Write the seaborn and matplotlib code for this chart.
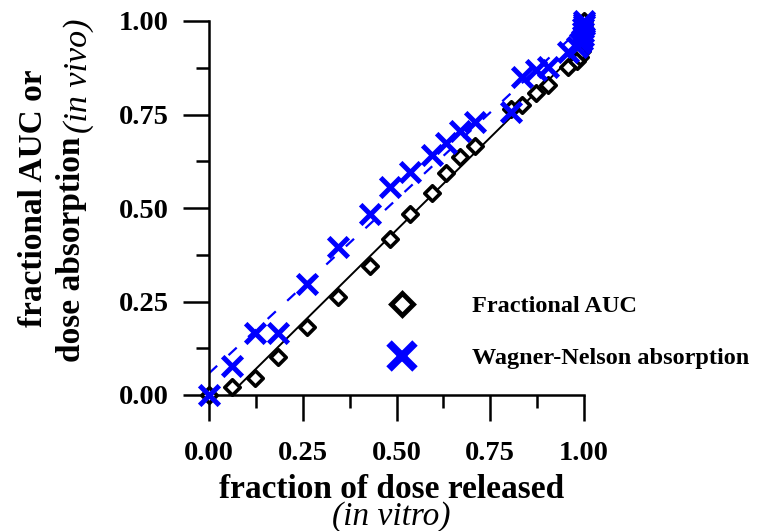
import numpy as np
import pandas as pd
import matplotlib
matplotlib.use("Agg")
import matplotlib.pyplot as plt
from matplotlib.lines import Line2D
from matplotlib.ticker import MultipleLocator
import seaborn as sns

# ---- data ----
frac_released = [0.0, 0.060, 0.123, 0.185, 0.262, 0.344, 0.428, 0.483, 0.536, 0.594,
                 0.633, 0.668, 0.709, 0.805, 0.834, 0.872, 0.905, 0.958, 0.982, 0.990,
                 0.994, 0.996, 0.997, 0.998, 0.999, 1.0, 1.0]
frac_auc = [0.0, 0.022, 0.045, 0.102, 0.183, 0.263, 0.346, 0.417, 0.483, 0.541,
            0.593, 0.636, 0.667, 0.764, 0.775, 0.807, 0.829, 0.876, 0.893, 0.905,
            0.920, 0.935, 0.950, 0.965, 0.978, 0.990, 1.0]
wn_abs = [0.0, 0.078, 0.167, 0.167, 0.297, 0.397, 0.484, 0.555, 0.597, 0.642,
          0.675, 0.707, 0.729, 0.757, 0.851, 0.869, 0.878, 0.918, 0.930, 0.940,
          0.950, 0.960, 0.970, 0.980, 0.990, 0.995, 1.0]

# fitted lines (slope, intercept)
auc_fit = (0.99, -0.054)
wn_fit = (0.93, 0.058)
fit_x = [0.0, 1.0]

x_ticks = [0.0, 0.25, 0.5, 0.75, 1.0]
tick_labels = ["0.00", "0.25", "0.50", "0.75", "1.00"]
legend_labels = ["Fractional AUC", "Wagner-Nelson absorption"]

# ---- style ----
sns.set_theme(style="ticks")
plt.rcParams["font.family"] = ["Liberation Serif", "DejaVu Serif"]
for key in ["text.color", "axes.labelcolor", "xtick.color", "ytick.color",
            "axes.edgecolor"]:
    plt.rcParams[key] = "black"

W, H = 757, 531
fig = plt.figure(figsize=(W / 100, H / 100), dpi=100)
ax = fig.add_axes([209 / W, 1 - 395 / H, 375 / W, 374 / H])

BLUE = "#0000ff"

df = pd.DataFrame({"x": frac_released, "auc": frac_auc, "wn": wn_abs})
line_df = pd.DataFrame({
    "x": fit_x,
    "auc": [auc_fit[0] * v + auc_fit[1] for v in fit_x],
    "wn": [wn_fit[0] * v + wn_fit[1] for v in fit_x],
})

sns.lineplot(data=line_df, x="x", y="auc", ax=ax, color="black", lw=1.4, zorder=2)
sns.lineplot(data=line_df, x="x", y="wn", ax=ax, color=BLUE, lw=1.6,
             linestyle=(0, (5, 7)), zorder=2)

sns.scatterplot(data=df, x="x", y="auc", ax=ax, marker="D", s=62,
                facecolor="white", edgecolor="black", linewidth=2.6,
                zorder=3, clip_on=False)
sns.scatterplot(data=df, x="x", y="wn", ax=ax, marker="x", s=200,
                color=BLUE, linewidth=3.6, zorder=4, clip_on=False)

ax.set_xlim(0, 1)
ax.set_ylim(0, 1)
ax.set_xlabel("")
ax.set_ylabel("")
ax.set_xticks(x_ticks)
ax.set_yticks(x_ticks)
ax.set_xticklabels(tick_labels)
ax.set_yticklabels(tick_labels)
ax.xaxis.set_minor_locator(MultipleLocator(0.125))
ax.yaxis.set_minor_locator(MultipleLocator(0.125))
for s in ["top", "right"]:
    ax.spines[s].set_visible(False)
for s in ["left", "bottom"]:
    ax.spines[s].set_linewidth(1.8)
    ax.spines[s].set_color("black")
ax.tick_params(which="major", direction="out", length=19, width=1.8, color="black")
ax.tick_params(which="minor", direction="out", length=9.5, width=1.8, color="black")
ax.tick_params(axis="x", which="major", pad=14)
ax.tick_params(axis="y", which="major", pad=10)
for lab in ax.get_xticklabels() + ax.get_yticklabels():
    lab.set_fontsize(20.5)
    lab.set_fontweight("bold")
    lab.set_color("black")

# axis titles
fig.text(391.5 / W, 1 - 498 / H, "fraction of dose released", ha="center",
         va="baseline", fontsize=24, fontweight="bold", color="black")
fig.text(391.5 / W, 1 - 525 / H, "(in vitro)", ha="center", va="baseline",
         fontsize=24, fontstyle="italic", color="black")
fig.text(42 / W, 1 - 327 / H, "fractional AUC or", rotation=90,
         rotation_mode="anchor", ha="left", va="baseline", fontsize=24,
         fontweight="bold", color="black")
fig.text(80 / W, 1 - 362 / H, "dose absorption", rotation=90,
         rotation_mode="anchor", ha="left", va="baseline", fontsize=24,
         fontweight="bold", color="black")
fig.text(87 / W, 1 - 133 / H, "(in vivo)", rotation=90,
         rotation_mode="anchor", ha="left", va="baseline", fontsize=24.5,
         fontstyle="italic", color="black")

# legend
handles = [
    Line2D([], [], marker="D", linestyle="none", markersize=11,
           markerfacecolor="white", markeredgecolor="black", markeredgewidth=3.5),
    Line2D([], [], marker="x", linestyle="none", markersize=19,
           color=BLUE, markeredgewidth=5.5),
]
leg = ax.legend(handles, legend_labels, loc="upper left",
                bbox_to_anchor=(378 / W, 1 - 295 / H),
                bbox_transform=fig.transFigure, frameon=False,
                borderpad=0, borderaxespad=0, handlelength=2.0,
                handletextpad=1.85, labelspacing=1.25,
                prop={"family": ["Liberation Serif"], "weight": "bold", "size": 17.5})
for t in leg.get_texts():
    t.set_color("black")

fig.savefig("out.png", dpi=100)
